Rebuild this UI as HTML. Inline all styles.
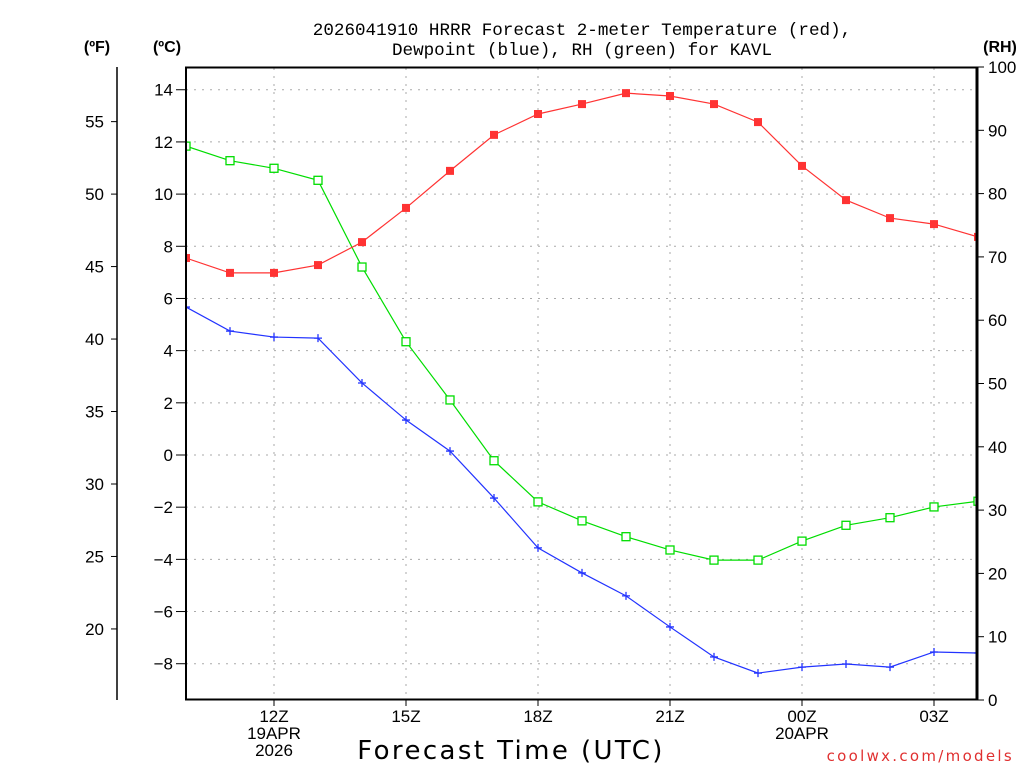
<!DOCTYPE html>
<html><head><meta charset="utf-8"><style>
body{margin:0;background:#fff;width:1024px;height:768px;overflow:hidden}
svg text{font-family:"Liberation Sans","DejaVu Sans",sans-serif}
</style></head><body>
<svg id="chart" width="1024" height="768" viewBox="0 0 1024 768" xmlns="http://www.w3.org/2000/svg">
<text x="582" y="35" font-size="17.6" text-anchor="middle" style="font-family:'Liberation Mono',monospace">2026041910 HRRR Forecast 2-meter Temperature (red),</text>
<text x="582" y="55" font-size="17.6" text-anchor="middle" style="font-family:'Liberation Mono',monospace">Dewpoint (blue), RH (green) for KAVL</text>
<text x="97" y="52" font-size="16" font-weight="bold" text-anchor="middle">(ºF)</text>
<text x="167" y="52" font-size="16" font-weight="bold" text-anchor="middle">(ºC)</text>
<text x="1000" y="52" font-size="16" font-weight="bold" text-anchor="middle">(RH)</text>
<text x="511" y="759" font-size="26" text-anchor="middle" letter-spacing="2.4" style="font-family:'DejaVu Sans',sans-serif">Forecast Time (UTC)</text>
<text x="1014" y="761" font-size="15" fill="#e03030" text-anchor="end" letter-spacing="2.3" style="font-family:'DejaVu Sans',sans-serif">coolwx.com/models</text>
<g id="grid"></g><g id="axes"></g><g id="series"></g>
<rect x="186" y="67.5" width="791" height="632" fill="none" stroke="#000" stroke-width="2"/>
<line x1="977" y1="67" x2="977" y2="700" stroke="#000" stroke-width="3"/>
</svg>
<script>
const hours=["10Z","11Z","12Z","13Z","14Z","15Z","16Z","17Z","18Z","19Z","20Z","21Z","22Z","23Z","00Z","01Z","02Z","03Z","04Z"];
const tempC=[7.55,6.98,6.98,7.28,8.16,9.47,10.89,12.27,13.07,13.45,13.87,13.76,13.45,12.76,11.08,9.77,9.08,8.85,8.36];
const dewC=[5.67,4.75,4.52,4.48,2.76,1.34,0.15,-1.65,-3.56,-4.52,-5.40,-6.59,-7.74,-8.36,-8.13,-8.01,-8.13,-7.55,-7.59];
const rh=[87.5,85.2,84.0,82.1,68.4,56.6,47.4,37.8,31.3,28.3,25.8,23.7,22.1,22.1,25.1,27.6,28.8,30.5,31.4];
const cTicks=[14,12,10,8,6,4,2,0,-2,-4,-6,-8];
const fTicks=[55,50,45,40,35,30,25,20];
const rhTicks=[0,10,20,30,40,50,60,70,80,90,100];
const xLabels=[{i:2,t:["12Z","19APR","2026"]},{i:5,t:["15Z"]},{i:8,t:["18Z"]},{i:11,t:["21Z"]},{i:14,t:["00Z","20APR"]},{i:17,t:["03Z"]}];
const NS="http://www.w3.org/2000/svg";
const X=i=>186+i*44, YC=c=>455-c*26.09, YR=r=>700-r*6.33, YF=f=>YC((f-32)*5/9);
function mk(tag,attrs,parent){const e=document.createElementNS(NS,tag);for(const k in attrs)e.setAttribute(k,attrs[k]);parent.appendChild(e);return e;}
const svg=document.getElementById('chart');
const defs=mk('defs',{},svg);const cp=mk('clipPath',{id:'plotclip'},defs);mk('rect',{x:186,y:67,width:791,height:633},cp);
const grid=document.getElementById('grid'),axes=document.getElementById('axes'),ser=document.getElementById('series');
ser.setAttribute('clip-path','url(#plotclip)');
cTicks.forEach(c=>{const y=YC(c);
 const g=mk('line',{x1:186,x2:977,y1:y,y2:y,stroke:'#aaa','stroke-dasharray':'2,6'},grid);
 
 mk('line',{x1:176,x2:186,y1:y,y2:y,stroke:'#000'},axes);
 const t=mk('text',{x:173,y:y+6,'font-size':17,'text-anchor':'end'},axes);t.textContent=c<0?'\u2212'+(-c):c;
 });
mk('line',{x1:117,x2:117,y1:67,y2:700,stroke:'#000','stroke-width':1.5},axes);
fTicks.forEach(f=>{const y=YF(f);mk('line',{x1:111,x2:117,y1:y,y2:y,stroke:'#000'},axes);
 const t=mk('text',{x:104,y:y+6,'font-size':17,'text-anchor':'end'},axes);t.textContent=f;
 });
rhTicks.forEach(r=>{const y=YR(r);mk('line',{x1:977,x2:984,y1:y,y2:y,stroke:'#000'},axes);
 const t=mk('text',{x:988,y:y+6,'font-size':17},axes);t.textContent=r;
 });
xLabels.forEach(l=>{const x=X(l.i);
 const g=mk('line',{x1:x,x2:x,y1:68,y2:700,stroke:'#aaa','stroke-dasharray':'2,6'},grid);
 
 mk('line',{x1:x,x2:x,y1:700,y2:706,stroke:'#000'},axes);
 l.t.forEach((s,k)=>{const t=mk('text',{x:x,y:722+k*17,'font-size':17,'text-anchor':'middle'},axes);t.textContent=s;
 });});
function series(vals,yf,color,marker,name){
 const p=mk('polyline',{points:vals.map((v,i)=>X(i)+','+yf(v)).join(' '),fill:'none',stroke:color,'stroke-width':1.2},ser);
 
 vals.forEach((v,i)=>{const x=X(i),y=yf(v);let m;
  if(marker==='fill')m=mk('rect',{x:x-4,y:y-4,width:8,height:8,fill:color},ser);
  else if(marker==='open')m=mk('rect',{x:x-4,y:y-4,width:8,height:8,fill:'#fff',stroke:color,'stroke-width':1.3},ser);
  else m=mk('path',{d:`M${x-4} ${y}H${x+4}M${x} ${y-4}V${y+4}`,stroke:color,'stroke-width':1.3},ser);
  });}
series(rh,YR,'#00dd00','open','rh');
series(tempC,YC,'#ff3333','fill','temperature');
series(dewC,YC,'#2233ff','plus','dewpoint');
</script>
</body></html>
